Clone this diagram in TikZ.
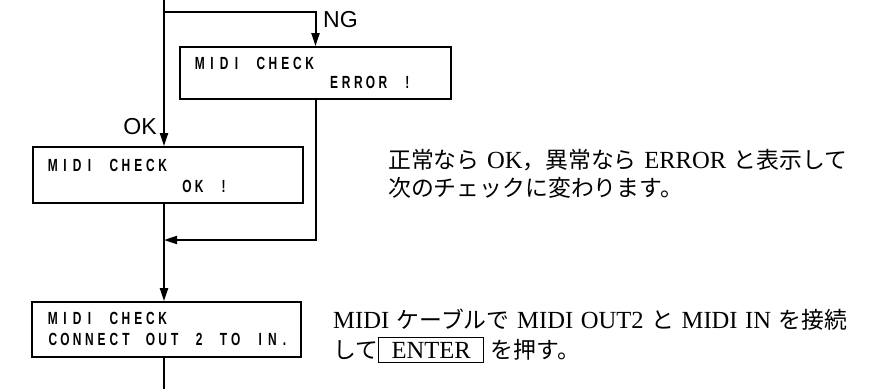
\documentclass[tikz,border=0pt]{standalone}
\usepackage{fontspec}
\usepackage{graphicx}
\usetikzlibrary{arrows.meta}
\setmainfont{Liberation Serif}
\newfontfamily\sansfont{Liberation Sans}
\newfontfamily\jpfont{Noto Sans CJK JP}

\ExplSyntaxOn
\NewDocumentCommand\lcd{m}{\str_map_inline:nn{#1}{\makebox[0.366cm]{\scalebox{0.68}[1]{##1}}}}
\ExplSyntaxOff
\newcommand\jp[1]{{\jpfont\fontsize{19.5}{24}\selectfont#1}}
\setlength{\fboxrule}{1pt}
\setlength{\fboxsep}{0.12cm}

\tikzstyle{panel}=[draw,line width=1.5pt,minimum width=8.1cm,minimum height=1.6cm,inner sep=0pt]
\tikzstyle{lcdline}=[anchor=west,inner sep=0pt,font=\sansfont\bfseries\fontsize{15}{17}\selectfont]
\tikzstyle{tag}=[inner sep=0pt,font=\sansfont\fontsize{19.7}{22}\selectfont]
\tikzstyle{note}=[anchor=base west,inner sep=0pt,font=\fontsize{21}{24}\selectfont]
\tikzstyle{flow}=[line width=1.7pt,-{Triangle[length=0.39cm,width=0.24cm]}]

\begin{document}
\begin{tikzpicture}[x=0.03cm,y=-0.03cm]
	\useasboundingbox (0,0) rectangle (881,389);
	% display panels
	\node[panel,minimum width=8.13cm,minimum height=1.56cm] (errbox) at (315.5,73) {};
	\node[panel,minimum height=1.68cm] (okbox) at (168,175) {};
	\node[panel,minimum width=8.07cm,minimum height=1.65cm] (conbox) at (166.5,329.5) {};
	\node[lcdline] (err1) at (193.5,63) {\lcd{MIDI CHECK}};
	\node[lcdline] (err2) at (327.7,82) {\lcd{ERROR !}};
	\node[lcdline] (ok1) at (46.5,165) {\lcd{MIDI CHECK}};
	\node[lcdline] (ok2) at (180.7,186) {\lcd{OK !}};
	\node[lcdline] (con1) at (46.5,318) {\lcd{MIDI CHECK}};
	\node[lcdline] (con2) at (46.5,339) {\lcd{CONNECT OUT 2 TO IN.}};
	% branch labels
	\node[tag] (oklabel) at (140,127) {OK};
	\node[tag] (nglabel) at (340.5,20) {NG};
	% connectors
	\coordinate (top) at (164,0);
	\coordinate (split) at (164,12);
	\coordinate (merge) at (164,240);
	\coordinate (bottom) at (164,389);
	\draw[flow] (top) -- (top |- okbox.north);
	\draw[flow] (split) -| (errbox.north);
	\draw[flow] (errbox.south) |- (merge);
	\draw[flow] (okbox.south -| merge) -- (merge |- conbox.north);
	\draw[line width=1.7pt] (conbox.south -| merge) -- (bottom);
	% notes
	\node[note] (note1a) at (388,168) {\makebox[13.77cm][s]{\jp{正常なら} OK\jp{，異常なら} ERROR \jp{と表示して}}};
	\node[note] (note1b) at (388,196) {\jp{次のチェックに変わります。}};
	\node[note] (note2a) at (333,328) {\makebox[15.42cm][s]{MIDI \jp{ケーブルで} MIDI OUT2 \jp{と} MIDI IN \jp{を接続}}};
	\node[note] (note2b) at (333,358) {\jp{して}\framebox[3.18cm]{ENTER}\hspace{0.2cm}\jp{を押す。}};
\end{tikzpicture}
\end{document}
